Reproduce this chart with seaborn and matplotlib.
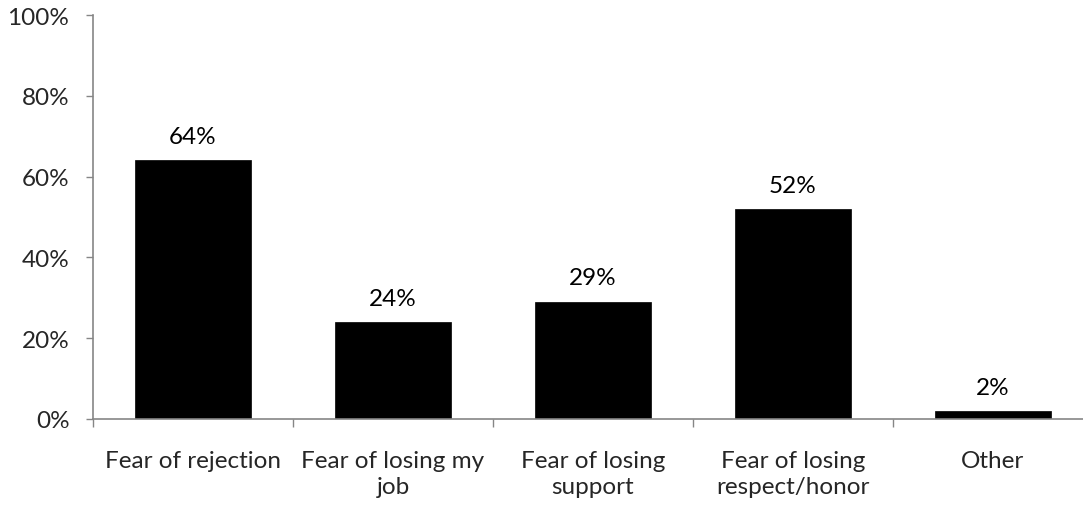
import numpy as np
import pandas as pd
import matplotlib
matplotlib.use("Agg")
import matplotlib.pyplot as plt
import seaborn as sns

# === Data ===
categories = ["Fear of rejection", "Fear of losing my\njob", "Fear of losing\nsupport",
              "Fear of losing\nrespect/honor", "Other"]
values = [64, 24, 29, 52, 2]
labels = ["64%", "24%", "29%", "52%", "2%"]

df = pd.DataFrame({"category": categories, "value": values})

sns.set_style("white")
plt.rcParams['font.family'] = ['Lato', 'DejaVu Sans']
FS = 17.5

fig = plt.figure(figsize=(10.83, 5.10), dpi=100)
# axis runs a little past the right edge of the picture, like the original
ax = fig.add_axes([93 / 1083, 1 - 420 / 510, 1000 / 1083, (420 - 16) / 510])

sns.barplot(data=df, x="category", y="value", color="black", width=0.58,
            saturation=1, ax=ax, edgecolor="black", linewidth=0.5)

# value labels above bars
for i, (v, lab) in enumerate(zip(values, labels)):
    ax.annotate(lab, (i, v), xytext=(0, 12.5), textcoords="offset points",
                ha="center", va="baseline", fontsize=FS, color="black")

ax.set_ylim(0, 100)
ax.set_xlim(-0.5, len(categories) - 0.5)
ax.set_yticks(np.arange(0, 101, 20))
ax.set_yticklabels([f"{t}%" for t in range(0, 101, 20)], fontsize=FS)
ax.set_xticks(range(len(categories)))
ax.set_xticklabels(categories, fontsize=FS, linespacing=1.3)
ax.set_xticks(np.arange(-0.5, len(categories)), minor=True)
ax.tick_params(axis="x", which="major", length=0, pad=22, bottom=True)
ax.tick_params(axis="x", which="minor", length=6, color="#868686", width=1,
               direction="out", bottom=True)
ax.tick_params(axis="y", length=5, color="#868686", width=1, direction="out",
               pad=12, left=True)
ax.set_xlabel("")
ax.set_ylabel("")

for s in ["top", "right"]:
    ax.spines[s].set_visible(False)
for s in ["left", "bottom"]:
    ax.spines[s].set_color("#868686")
    ax.spines[s].set_linewidth(1.2)

plt.savefig("out.png", dpi=100)
plt.close()
